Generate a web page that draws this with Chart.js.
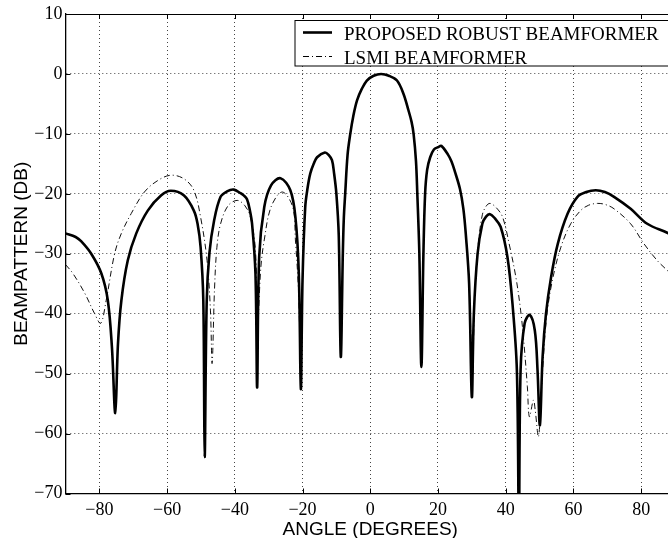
<!DOCTYPE html>
<html>
<head>
<meta charset="utf-8">
<script src="https://cdn.jsdelivr.net/npm/chart.js@4.4.0/dist/chart.umd.min.js"></script>
<style>
  body { margin: 0; background: #fff; overflow: hidden; }
  #wrap { width: 680px; height: 538px; }
</style>
</head>
<body>
<div id="wrap"><canvas id="chart" width="680" height="538"></canvas></div>
<script>
// values (angle in degrees, beampattern in dB)
const robustAngle = [-90, -87, -85.4, -82.4, -79.4, -77.5, -76.3, -75.3, -74.5, -73.5, -71.6, -69.1, -65.7, -61.8, -58.9, -55, -52.1, -51, -50.1, -49.3, -48.9,
  -48.3, -47.5, -46.1, -44.2, -42.3, -40.3, -38.3, -37.3, -36.4, -35.6, -34.9, -33.9, -33.4, -32.8, -31.3, -29.3, -26.5, -23.6, -22.1, -21.1, -20.5,
  -20, -19.2, -18.5, -17.7, -16.7, -15.7, -13.4, -12.3, -11.3, -10.7, -10, -9.3, -8.7, -8.1, -7.8, -7.4, -6.7, -5.9, -5, -3.9, -2.5, -1, 1, 3.2, 5.5, 7.9, 9.8, 11.3, 12.2, 12.8, 13.5, 13.9, 14.5, 15.1,
  15.7, 16.2, 16.8, 17.7, 18.8, 20.1, 21, 23, 24, 25, 26.5, 27.5, 28.2, 29.2, 30, 30.6, 31.7, 33.1, 34.2, 35.4, 36.8, 38.5, 40.5, 42, 43.3, 43.9,
  44.4, 45.6, 47.1, 48.6, 49.4, 50.1, 50.9, 51.9, 53.4, 55.4, 58.3, 61.2, 63.8, 66.6, 69.3, 72, 76.9, 81.8, 87.7, 90];
const robustDb = [-26.6, -27.2, -27.9, -30, -33.3, -37.8, -45.5, -56.6, -45, -37.8, -31.1, -26.6, -22.8, -20.3, -19.5, -20.3, -22.8, -25, -28.9, -37.8, -63.9,
  -38, -29.9, -24.4, -20.5, -19.6, -19.3, -19.9, -20.3, -20.9, -22.6, -25, -33.3, -52.3, -30.5, -22.2, -18.6, -17.4, -19.4, -23.9, -33.3, -52.6,
  -34.4, -22.2, -19, -16.6, -15, -13.9, -13.1, -13.5, -14.4, -16.5, -20, -27, -47.2, -30, -24, -20, -13.5, -10, -7, -4.4, -2.5, -1.1, -0.3, 0, -0.3, -1.1, -3.3, -6.1, -8, -10, -14.5, -20, -30, -48.9,
  -30, -20, -16, -13.9, -12.6, -12.2, -12, -13.5, -14.6, -16.3, -19.2, -22.5, -26.6, -35, -53.9, -40, -30, -25, -23.8, -23.4, -24.1, -25.5, -30.5, -38.3, -49.4, -76,
  -49.4, -41.6, -40.2, -42.8, -49.4, -58.6, -47.2, -40, -33.9, -28.3, -23.3, -20.5, -19.7, -19.4, -19.7, -20.5, -22.5, -25, -26.5, -27.2];

const lsmiAngle = [-90, -87.8, -84.3, -81.4, -79.6, -78, -75.5, -73.5, -70.6, -66.7, -62.8, -58.9, -55, -52.1, -50.1, -48.2, -47.2, -46.7,
  -46, -45.3, -44.2, -42, -39.3, -37, -35.4, -33.9, -33.3, -32.3, -31.3, -29.3, -26, -22.9, -22.1, -21.2, -20.6,
  -20, -19.2, -18.5, -17.7, -16.7, -15.7, -13.4, -12.3, -11.3, -10.7, -10, -9.3, -8.7, -8.1, -7.8, -7.4, -6.7, -5.9, -5, -3.9, -2.5, -1, 1, 3.2, 5.5, 7.9, 9.8, 11.3, 12.2, 12.8, 13.5, 13.9, 14.5, 15.1,
  15.7, 16.2, 16.8, 17.7, 18.8, 20.1, 21, 23, 24, 25, 26.5, 27.5, 28.2, 29.2, 30.2, 30.8, 31.8, 33.1, 34.3, 35.4, 37.2, 39.1, 41, 43, 44.4, 45.4, 46.4, 47,
  48.2, 48.7, 49.7, 50.9, 52.1, 53.8, 56.3, 59.2, 62.2, 64.5, 67.1, 69.5, 72, 76.9, 80.8, 84.7, 87.2, 90];
const lsmiDb = [-31.8, -33.3, -36.6, -40, -41.6, -37.8, -30, -26.6, -23.3, -19.7, -17.8, -16.9, -17.5, -19.4, -23.9, -31.1, -39.4, -48.3,
  -36, -29, -25, -22, -21.1, -22, -23.9, -29.4, -42, -32.2, -27.7, -22.2, -19.7, -22.2, -27.7, -36, -46,
  -34.4, -22.2, -19, -16.6, -15, -13.9, -13.1, -13.5, -14.4, -16.5, -20, -27, -47.2, -30, -24, -20, -13.5, -10, -7, -4.4, -2.5, -1.1, -0.3, 0, -0.3, -1.1, -3.3, -6.1, -8, -10, -14.5, -20, -30, -48.9,
  -30, -20, -16, -13.9, -12.6, -12.2, -12, -13.5, -14.6, -16.3, -19.2, -22.5, -26.6, -35, -50, -38, -29, -23.5, -22, -21.6, -22.3, -23.9, -28.3, -33.9, -39.4, -45, -52.2, -57.2,
  -54.4, -56, -60.5, -49.4, -40.5, -34.4, -28.9, -25, -22.75, -21.9, -21.6, -21.8, -22.5, -25, -28.3, -31.1, -32.5, -34];

const seriesLabels = ["PROPOSED ROBUST BEAMFORMER", "LSMI BEAMFORMER"];
const xTicks = [-80, -60, -40, -20, 0, 20, 40, 60, 80];
const yTicks = [10, 0, -10, -20, -30, -40, -50, -60, -70];

function toPoints(xs, ys) {
  return xs.map((x, i) => ({ x: x, y: ys[i] }));
}
const minus = (v) => String(v).replace("-", "\u2212");

// matlab style frame: top line, inner tick marks, boxed legend
const frame = {
  id: "frame",
  afterDraw(chart) {
    const { ctx, chartArea: a } = chart;
    const xs = chart.scales.x, ys = chart.scales.y;
    ctx.save();
    ctx.strokeStyle = "#000";
    ctx.lineWidth = 1;
    ctx.beginPath();
    ctx.moveTo(a.left, Math.round(a.top) + 0.5);
    ctx.lineTo(a.right, Math.round(a.top) + 0.5);
    xTicks.forEach((v) => {
      const px = Math.round(xs.getPixelForValue(v)) + 0.5;
      ctx.moveTo(px, a.bottom); ctx.lineTo(px, a.bottom - 5);
      ctx.moveTo(px, a.top); ctx.lineTo(px, a.top + 5);
    });
    yTicks.forEach((v) => {
      const py = Math.round(ys.getPixelForValue(v)) + 0.5;
      ctx.moveTo(a.left, py); ctx.lineTo(a.left + 5, py);
    });
    ctx.stroke();

    // legend box
    const bx = a.left + 229.5, by = a.top + 6.5;
    ctx.fillStyle = "#fff";
    ctx.fillRect(bx, by, 500, 45.5);
    ctx.strokeRect(bx, by, 500, 45.5);
    ctx.font = "19px 'Liberation Serif'";
    ctx.fillStyle = "#000";
    ctx.textBaseline = "alphabetic";
    chart.data.datasets.forEach((ds, i) => {
      const ly = by + 12 + i * 24;
      ctx.save();
      ctx.lineWidth = ds.borderWidth;
      ctx.setLineDash(ds.borderDash || []);
      ctx.beginPath();
      ctx.moveTo(bx + 8, ly);
      ctx.lineTo(bx + 37, ly);
      ctx.stroke();
      ctx.restore();
      ctx.fillText(ds.label, bx + 49, ly + 7.5);
    });
    ctx.restore();
  }
};

const ctx = document.getElementById("chart").getContext("2d");
new Chart(ctx, {
  type: "line",
  data: {
    datasets: [
      {
        label: seriesLabels[0],
        data: toPoints(robustAngle, robustDb),
        borderColor: "#000",
        borderWidth: 2.6,
        pointRadius: 0,
        tension: 0.35,
        fill: false,
      },
      {
        label: seriesLabels[1],
        data: toPoints(lsmiAngle, lsmiDb),
        borderColor: "#111",
        borderWidth: 1,
        borderDash: [6, 3, 1, 3],
        pointRadius: 0,
        tension: 0.35,
        fill: false,
      },
    ],
  },
  options: {
    responsive: false,
    animation: false,
    devicePixelRatio: 1,
    layout: { padding: { top: 14, right: 5, left: 0, bottom: 0 } },
    plugins: {
      legend: { display: false },
      tooltip: { enabled: false },
    },
    scales: {
      x: {
        type: "linear",
        min: -90,
        max: 90,
        afterBuildTicks: (s) => { s.ticks = xTicks.map((v) => ({ value: v })); },
        afterFit: (s) => { s.height = 44.5; },
        ticks: {
          callback: (v) => minus(v),
          color: "#000",
          padding: 6,
          maxRotation: 0,
          font: { family: "'Liberation Serif'", size: 18 },
        },
        grid: { color: "#444", lineWidth: 1, drawTicks: false },
        border: { display: true, color: "#000", width: 1.3, dash: [1, 3] },
        title: {
          display: true,
          text: "ANGLE (DEGREES)",
          color: "#000",
          padding: { top: 0, bottom: -1 },
          font: { family: "'Liberation Sans'", size: 19, lineHeight: 1 },
        },
      },
      y: {
        min: -70,
        max: 10,
        afterBuildTicks: (s) => { s.ticks = yTicks.map((v) => ({ value: v })); },
        afterFit: (s) => { s.width = 65.5; },
        ticks: {
          callback: (v) => minus(v),
          color: "#000",
          padding: 3,
          font: { family: "'Liberation Serif'", size: 18 },
        },
        grid: { color: "#444", lineWidth: 1, drawTicks: false },
        border: { display: true, color: "#000", width: 1.3, dash: [1, 3] },
        title: {
          display: true,
          text: "BEAMPATTERN (DB)",
          color: "#000",
          padding: { top: 12, bottom: 0 },
          font: { family: "'Liberation Sans'", size: 19, lineHeight: 1 },
        },
      },
    },
  },
  plugins: [frame],
});
</script>
</body>
</html>
